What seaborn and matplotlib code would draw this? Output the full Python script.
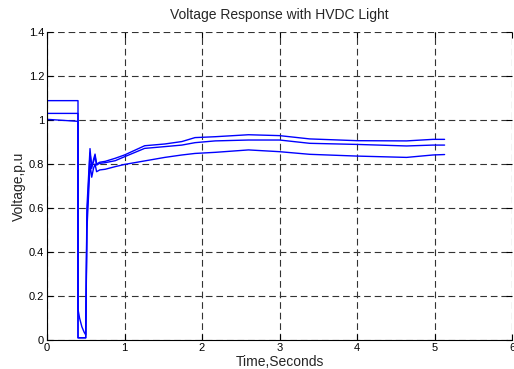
import numpy as np
import pandas as pd
import matplotlib
matplotlib.use("Agg")
import matplotlib.pyplot as plt
import seaborn as sns

# time axis (seconds), repeated points give the vertical steps
time_s = [0.0, 0.4, 0.4, 0.42, 0.45, 0.48, 0.5, 0.5, 0.515, 0.555, 0.577, 0.6,
          0.62, 0.64, 0.68, 0.75, 0.88, 1.0, 1.26, 1.52, 1.74, 1.91, 2.17, 2.6,
          3.0, 3.39, 4.0, 4.64, 4.98, 5.13]

bus_a = [1.088, 1.088, 0.01, 0.01, 0.01, 0.01, 0.01, 0.02, 0.60, 0.87, 0.78, 0.82,
         0.845, 0.80, 0.808, 0.812, 0.826, 0.841, 0.883, 0.891, 0.902, 0.92, 0.924, 0.933,
         0.929, 0.914, 0.906, 0.905, 0.912, 0.912]
bus_b = [1.03, 1.03, 0.01, 0.01, 0.01, 0.01, 0.01, 0.02, 0.55, 0.85, 0.79, 0.81,
         0.835, 0.795, 0.803, 0.806, 0.815, 0.833, 0.871, 0.879, 0.886, 0.897, 0.905, 0.909,
         0.909, 0.894, 0.889, 0.882, 0.886, 0.886]
bus_c = [1.003, 0.994, 0.14, 0.10, 0.06, 0.035, 0.023, 0.023, 0.50, 0.80, 0.74, 0.78,
         0.80, 0.765, 0.773, 0.776, 0.788, 0.798, 0.814, 0.83, 0.841, 0.848, 0.853, 0.864,
         0.856, 0.844, 0.836, 0.83, 0.841, 0.843]

sns.set_style("white")
plt.rcParams['font.family'] = ['Liberation Sans', 'DejaVu Sans']

fig = plt.figure(figsize=(5.14, 3.69), dpi=100)
ax = fig.add_axes([47 / 514, 29 / 369, 465 / 514, 308 / 369])

for vals in [bus_a, bus_b, bus_c]:
    df = pd.DataFrame({'t': time_s, 'v': vals})
    sns.lineplot(data=df, x='t', y='v', sort=False, estimator=None,
                 color='#0000ff', linewidth=1.0, ax=ax)

ax.set_xlim(0, 6)
ax.set_ylim(0, 1.4)
ax.set_xticks(range(0, 7))
ax.set_yticks(np.arange(0, 1.41, 0.2))
ax.set_yticklabels(['0', '0.2', '0.4', '0.6', '0.8', '1', '1.2', '1.4'])
ax.grid(True, color='#333333', linestyle=(0, (6, 3.5)), linewidth=0.8)
ax.tick_params(direction='in', length=4, labelsize=8, colors='black',
               top=True, right=True, bottom=True, left=True, pad=2)
for side in ['top', 'right']:
    ax.spines[side].set_visible(False)
for side in ['left', 'bottom']:
    ax.spines[side].set_color('black')
    ax.spines[side].set_linewidth(0.8)

ax.set_title('Voltage Response with HVDC Light', fontsize=10, pad=9)
ax.set_xlabel('Time,Seconds', fontsize=10, labelpad=1.5)
ax.set_ylabel('Voltage,p.u', fontsize=10, labelpad=2)

fig.savefig('out.png', dpi=100)
